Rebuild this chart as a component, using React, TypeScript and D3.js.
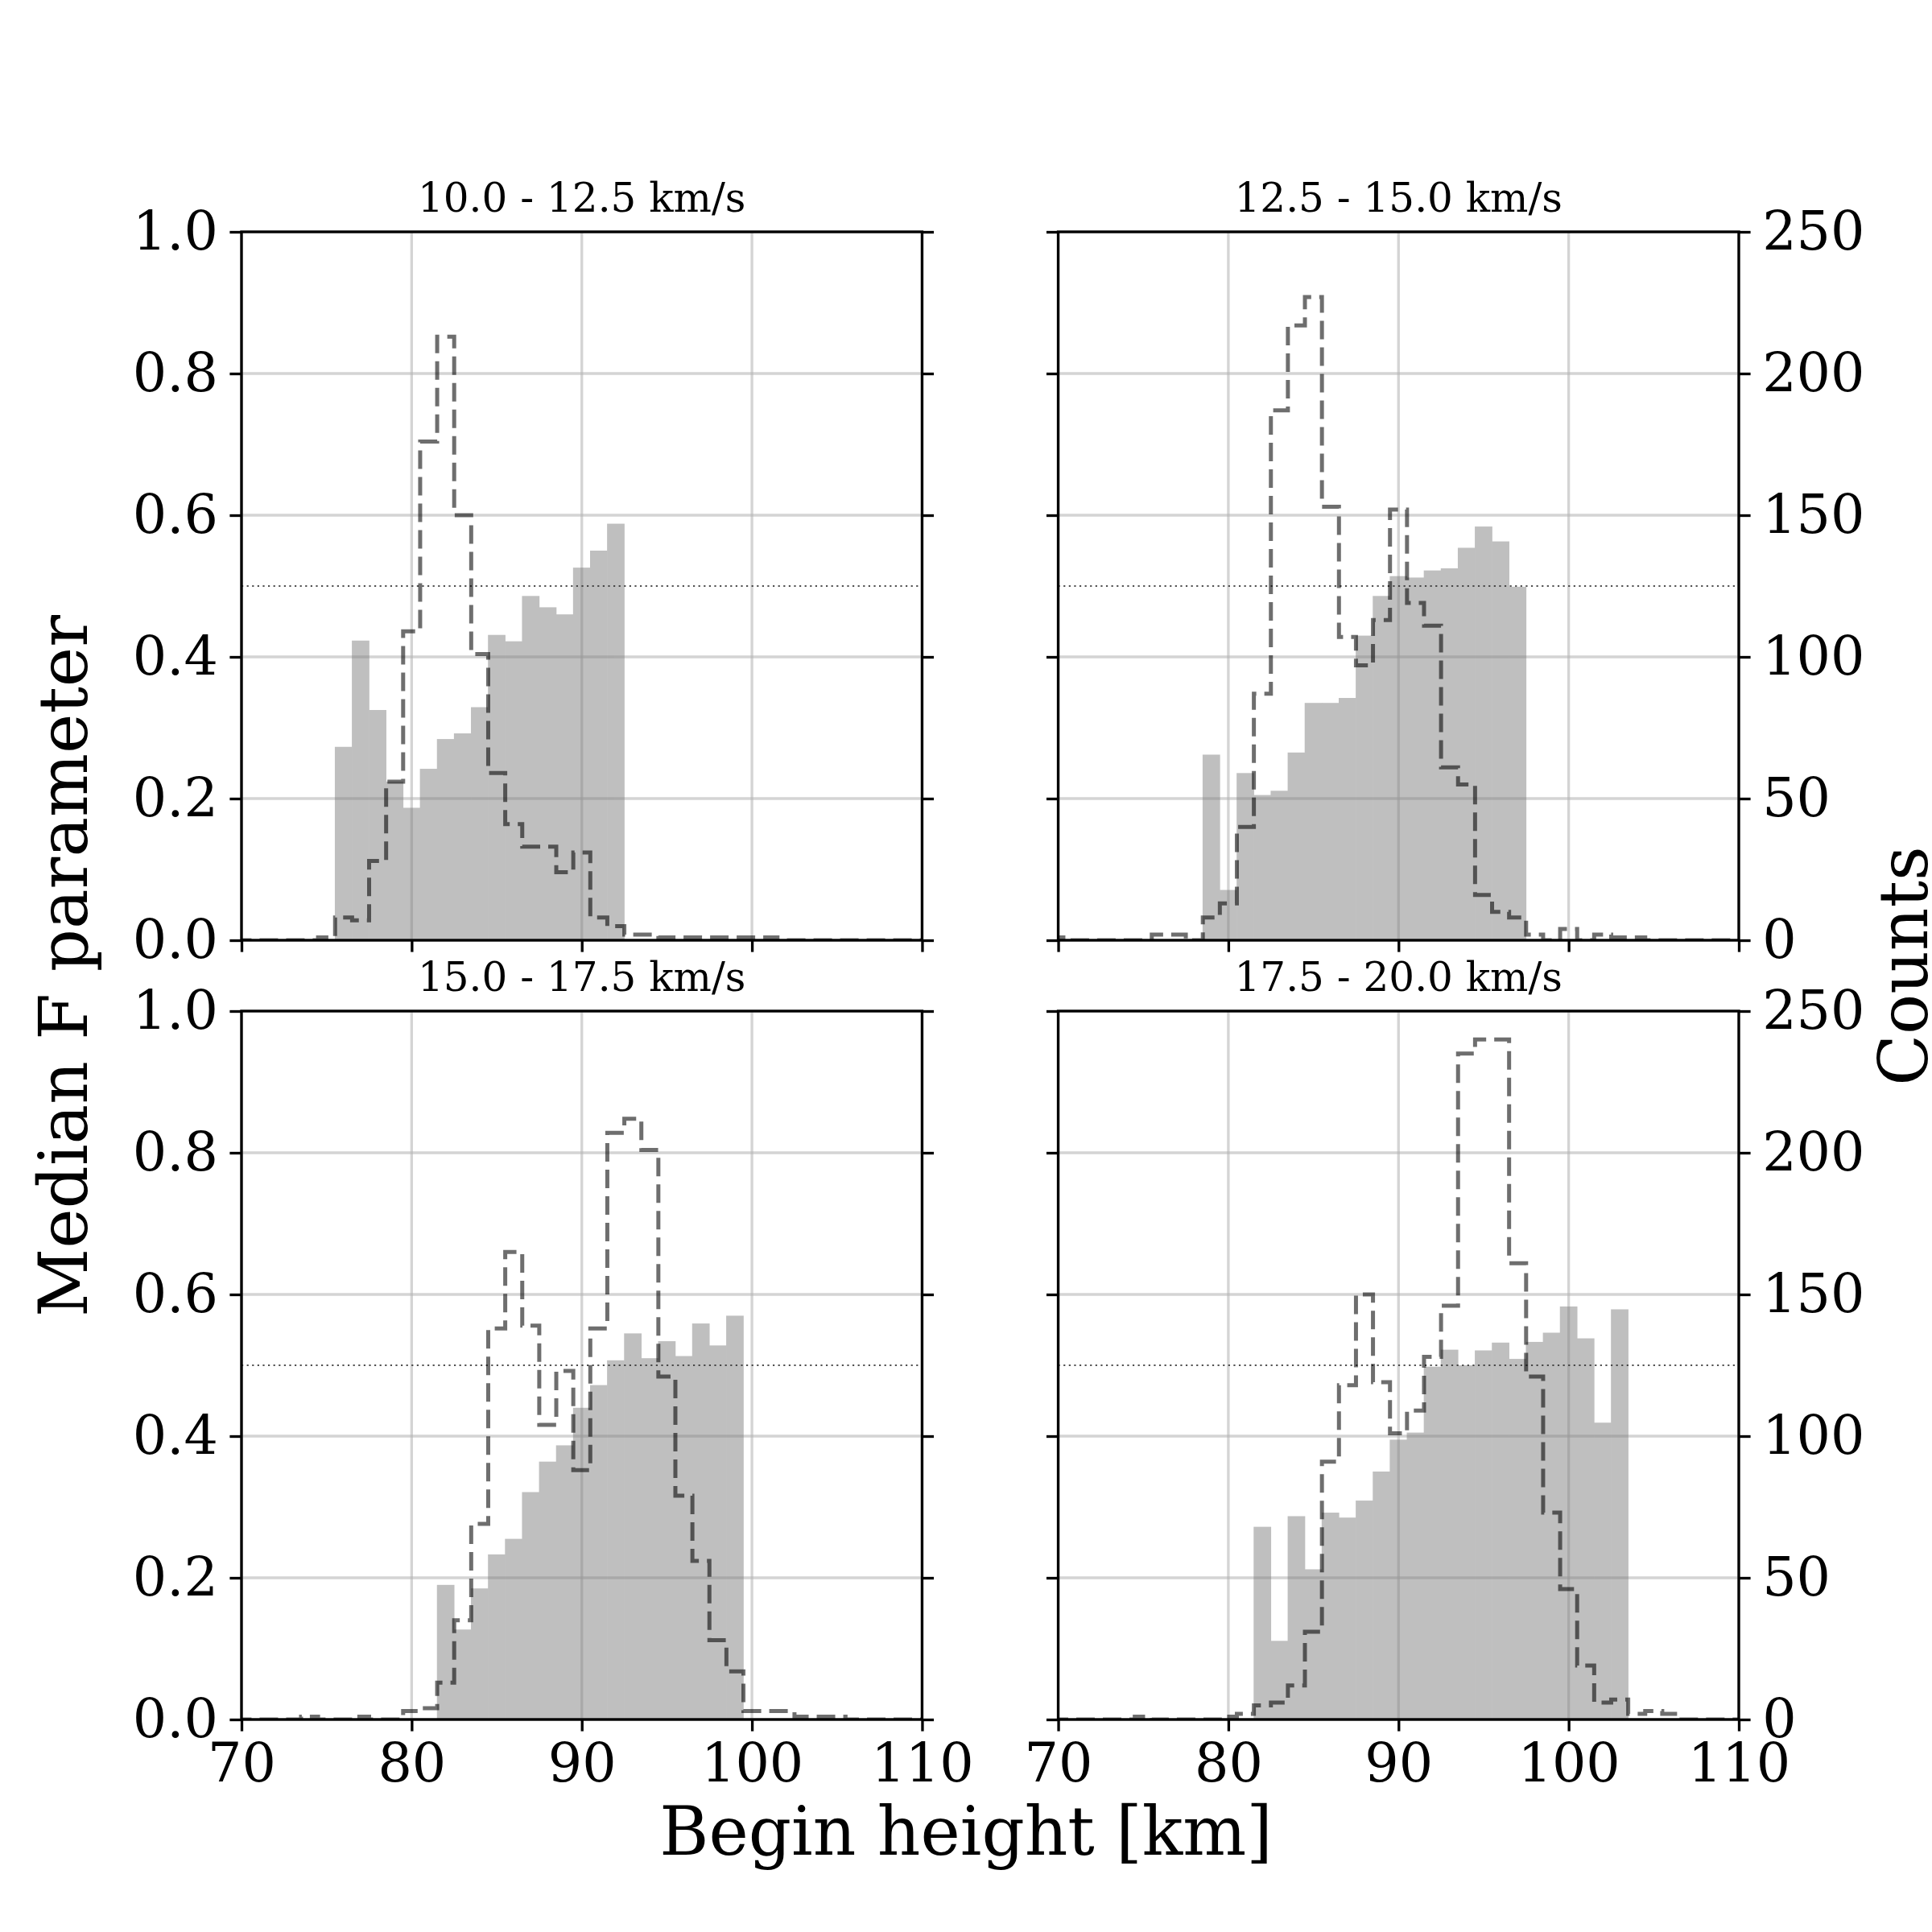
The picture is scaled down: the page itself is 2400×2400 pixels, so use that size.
import React, { useEffect, useRef } from "react";
import * as d3 from "d3";

// left edge of every 1 km height bin (km)
const binLeft = [
  69.5, 70.5, 71.5, 72.5, 73.5, 74.5, 75.5, 76.5, 77.5, 78.5, 79.5, 80.5, 81.5, 82.5,
  83.5, 84.5, 85.5, 86.5, 87.5, 88.5, 89.5, 90.5, 91.5, 92.5, 93.5, 94.5, 95.5, 96.5,
  97.5, 98.5, 99.5, 100.5, 101.5, 102.5, 103.5, 104.5, 105.5, 106.5, 107.5, 108.5, 109.5,
];

const panelTitles = ["10.0 - 12.5 km/s", "12.5 - 15.0 km/s", "15.0 - 17.5 km/s", "17.5 - 20.0 km/s"];

// counts per bin (right axis)
const counts1 = [
  0, 0, 0, 0, 0, 1, 8, 7, 28, 56, 109, 176, 213, 150, 101, 59, 41, 33, 33, 24, 31, 8, 5, 2,
  2, 1, 1, 1, 1, 1, 1, 1, 0, 0, 0, 0, 0, 0, 0, 0, 0,
];
const counts2 = [
  1, 0, 0, 0, 0, 0, 2, 2, 0, 8, 13, 40, 87, 187, 217, 227, 153, 107, 97, 113, 152, 119, 111,
  61, 55, 16, 10, 8, 2, 0, 4, 0, 2, 1, 1, 0, 0, 0, 0, 0, 0,
];
const counts3 = [
  0, 0, 0, 0, 1, 0, 0, 1, 0, 0, 3, 4, 13, 35, 69, 138, 165, 139, 104, 123, 88, 138, 207, 212,
  201, 121, 79, 56, 28, 17, 3, 3, 3, 1, 1, 1, 0, 0, 0, 0, 0,
];
const counts4 = [
  0, 0, 0, 0, 0, 1, 0, 0, 0, 0, 1, 2, 5, 6, 12, 31, 91, 118, 150, 119, 101, 109, 128, 146,
  235, 240, 240, 161, 121, 73, 46, 19, 6, 7, 2, 3, 2, 0, 0, 0, 0,
];

// median F parameter per bin (left axis), null where no bar
const _ = null;
const median1 = [
  _, _, _, _, _, _, 0.273, 0.423, 0.325, 0.224, 0.187, 0.242, 0.284, 0.292, 0.329, 0.431,
  0.422, 0.486, 0.47, 0.46, 0.526, 0.55, 0.588, _, _, _, _, _, _, _, _, _, _, _, _, _, _, _, _, _, _,
];
const median2 = [
  _, _, _, _, _, _, _, _, _, 0.262, 0.071, 0.236, 0.205, 0.211, 0.265, 0.335, 0.335, 0.342,
  0.43, 0.486, 0.514, 0.512, 0.522, 0.525, 0.554, 0.584, 0.563, 0.499, _, _, _, _, _, _, _, _,
  _, _, _, _, _,
];
const median3 = [
  _, _, _, _, _, _, _, _, _, _, _, _, 0.19, 0.127, 0.185, 0.233, 0.255, 0.321, 0.364, 0.387,
  0.44, 0.472, 0.507, 0.545, 0.51, 0.534, 0.513, 0.559, 0.528, 0.57, _, _, _, _, _, _, _, _, _,
  _, _,
];
const median4 = [
  _, _, _, _, _, _, _, _, _, _, _, _, 0.272, 0.111, 0.287, 0.212, 0.292, 0.285, 0.309, 0.35,
  0.395, 0.405, 0.498, 0.522, 0.5, 0.521, 0.532, 0.509, 0.533, 0.546, 0.583, 0.538, 0.419,
  0.579, _, _, _, _, _, _, _,
];

const xTicks = [70, 80, 90, 100, 110];
const fTicks = [0, 0.2, 0.4, 0.6, 0.8, 1.0];
const countTicks = [0, 50, 100, 150, 200, 250];

const FONT = "DejaVu Serif";
const LW = 3.33; // 0.8pt at 300 dpi
const TICK = 14.6;

function MakeFigure(svgEl: SVGSVGElement) {
  const svg = d3.select(svgEl);
  svg.selectAll("*").remove();

  const left = 300;
  const right = 2160;
  const top = 288;
  const bottom = 2136;
  const axW = (right - left) / 2.2;
  const axH = (bottom - top) / 2.1;

  const x = d3.scaleLinear().domain([70, 110]).range([0, axW]);
  const yF = d3.scaleLinear().domain([0, 1]).range([axH, 0]);
  const yC = d3.scaleLinear().domain([0, 250]).range([axH, 0]);

  const panels = [
    { title: panelTitles[0], counts: counts1, median: median1, col: 0, row: 0 },
    { title: panelTitles[1], counts: counts2, median: median2, col: 1, row: 0 },
    { title: panelTitles[2], counts: counts3, median: median3, col: 0, row: 1 },
    { title: panelTitles[3], counts: counts4, median: median4, col: 1, row: 1 },
  ];

  const defs = svg.append("defs");

  panels.forEach((p, k) => {
    const ox = left + p.col * axW * 1.2;
    const oy = top + p.row * axH * 1.1;
    const g = svg.append("g").attr("transform", `translate(${ox},${oy})`);

    defs
      .append("clipPath")
      .attr("id", `clip${k}`)
      .append("rect")
      .attr("width", axW)
      .attr("height", axH);

    // grid
    g.append("g")
      .selectAll("line")
      .data(xTicks)
      .enter()
      .append("line")
      .attr("x1", (d) => x(d))
      .attr("x2", (d) => x(d))
      .attr("y1", 0)
      .attr("y2", axH)
      .style("stroke", "#b0b0b0")
      .style("stroke-opacity", 0.55)
      .style("stroke-width", LW);
    g.append("g")
      .selectAll("line")
      .data(fTicks)
      .enter()
      .append("line")
      .attr("x1", 0)
      .attr("x2", axW)
      .attr("y1", (d) => yF(d))
      .attr("y2", (d) => yF(d))
      .style("stroke", "#b0b0b0")
      .style("stroke-opacity", 0.55)
      .style("stroke-width", LW);

    const data = g.append("g").attr("clip-path", `url(#clip${k})`);

    // median F bars, drawn as one translucent layer so no seams show
    const bars = binLeft
      .map((l, i) => ({ l, r: binLeft[i + 1] ?? l + 1, v: p.median[i] }))
      .filter((d) => d.v !== null) as { l: number; r: number; v: number }[];
    data
      .append("g")
      .style("opacity", 0.5)
      .selectAll("rect")
      .data(bars)
      .enter()
      .append("rect")
      .attr("x", (d) => x(d.l) - 0.3)
      .attr("width", (d) => x(d.r) - x(d.l) + 0.6)
      .attr("y", (d) => yF(d.v))
      .attr("height", (d) => axH - yF(d.v))
      .style("fill", "#808080");

    // 0.5 reference
    data
      .append("line")
      .attr("x1", 0)
      .attr("x2", axW)
      .attr("y1", yF(0.5))
      .attr("y2", yF(0.5))
      .style("stroke", "#333")
      .style("stroke-opacity", 0.85)
      .style("stroke-width", 2)
      .style("stroke-dasharray", "2.2 4.4");

    // counts step histogram
    const last = binLeft[binLeft.length - 1] + 1;
    const pts: [number, number][] = [[binLeft[0], 0]];
    binLeft.forEach((l, i) => pts.push([l, p.counts[i]]));
    pts.push([last, p.counts[p.counts.length - 1]]);
    pts.push([last, 0]);
    const step = d3
      .line<[number, number]>()
      .x((d) => x(d[0]))
      .y((d) => yC(d[1]))
      .curve(d3.curveStepAfter);
    data
      .append("path")
      .attr("d", step(pts))
      .style("fill", "none")
      .style("stroke", "#000")
      .style("stroke-opacity", 0.57)
      .style("stroke-width", 5)
      .style("stroke-dasharray", "23 10");

    // axes
    const styleAxis = (ax: d3.Selection<SVGGElement, unknown, null, undefined>) => {
      ax.select(".domain").remove();
      ax.selectAll("line").style("stroke", "#000").style("stroke-width", LW);
      ax.selectAll("text")
        .style("font-family", FONT)
        .style("font-size", "66.7px")
        .style("fill", "#000");
    };

    const showX = p.row === 1;
    const gx = g
      .append("g")
      .attr("transform", `translate(0,${axH})`)
      .call(
        d3
          .axisBottom(x)
          .tickValues(xTicks)
          .tickSize(TICK)
          .tickPadding(TICK)
          .tickFormat((d) => (showX ? d3.format("d")(d as number) : ""))
      );
    styleAxis(gx);

    const showF = p.col === 0;
    const gl = g.append("g").call(
      d3
        .axisLeft(yF)
        .tickValues(fTicks)
        .tickSize(TICK)
        .tickPadding(TICK)
        .tickFormat((d) => (showF ? d3.format(".1f")(d as number) : ""))
    );
    styleAxis(gl);

    const showC = p.col === 1;
    const gr = g
      .append("g")
      .attr("transform", `translate(${axW},0)`)
      .call(
        d3
          .axisRight(yC)
          .tickValues(countTicks)
          .tickSize(TICK)
          .tickPadding(TICK)
          .tickFormat((d) => (showC ? d3.format("d")(d as number) : ""))
      );
    styleAxis(gr);

    // spines
    g.append("rect")
      .attr("width", axW)
      .attr("height", axH)
      .style("fill", "none")
      .style("stroke", "#000")
      .style("stroke-width", LW);

    g.append("text")
      .attr("x", axW / 2)
      .attr("y", -25)
      .attr("text-anchor", "middle")
      .style("font-family", FONT)
      .style("font-size", "50px")
      .text(p.title);
  });

  // figure labels
  svg
    .append("text")
    .attr("text-anchor", "middle")
    .attr("transform", "translate(108,1200)rotate(-90)")
    .style("font-family", FONT)
    .style("font-size", "83.3px")
    .text("Median F parameter");

  svg
    .append("text")
    .attr("text-anchor", "middle")
    .attr("transform", "translate(2394,1200)rotate(-90)")
    .style("font-family", FONT)
    .style("font-size", "83.3px")
    .text("Counts");

  svg
    .append("text")
    .attr("x", 1200)
    .attr("y", 2304)
    .attr("text-anchor", "middle")
    .style("font-family", FONT)
    .style("font-size", "83.3px")
    .text("Begin height [km]");
}

const App = () => {
  const svgRef = useRef<SVGSVGElement>(null);
  useEffect(() => {
    if (svgRef.current) MakeFigure(svgRef.current);
  }, []);

  return (
    <svg
      ref={svgRef}
      width={2400}
      height={2400}
      style={{ position: "absolute", left: 0, top: 0, background: "#fff" }}
    />
  );
};

export default App;
